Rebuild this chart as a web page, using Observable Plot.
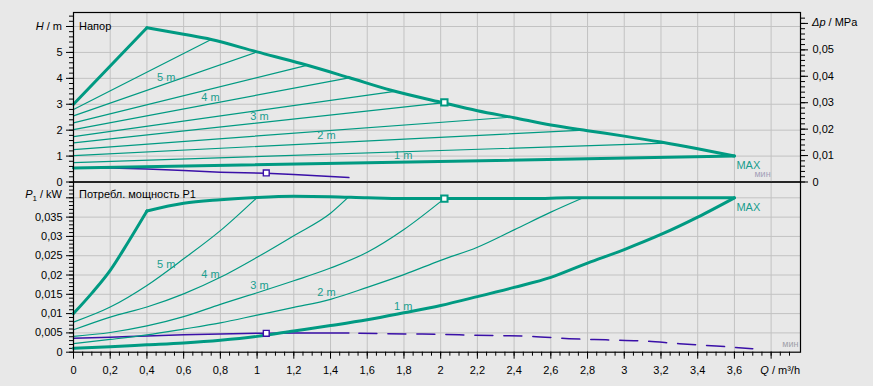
<!DOCTYPE html>
<html><head><meta charset="utf-8">
<script src="https://cdn.jsdelivr.net/npm/d3@7"></script>
<script src="https://cdn.jsdelivr.net/npm/@observablehq/plot@0.6"></script>
<style>
html,body{margin:0;padding:0;background:#e8e8e8;}
#chart{position:relative;width:873px;height:386px;background:#e8e8e8;overflow:hidden;}
#chart svg{position:absolute;left:0;top:0;}
</style></head><body><div id="chart"></div>
<script>
// ---------- DATA ----------
// Head (top panel), MAX curve: rising part and falling part
const maxRiseQ = [0, 0.4];
const maxRiseH = [3.0, 5.95];
const maxQ = [0.4, 0.6, 0.75, 1.0, 1.24, 1.5, 1.73, 2.0, 2.2, 2.4, 2.6, 2.8, 3.0, 3.2, 3.4, 3.6];
const maxH = [5.95, 5.70, 5.50, 5.02, 4.57, 4.03, 3.54, 3.08, 2.75, 2.48, 2.20, 1.98, 1.77, 1.54, 1.28, 1.0];
// Proportional-pressure control lines (setpoints 1.5 ... 5.5 m): start head at Q=0, end on MAX curve
const ctrlStartH = [0.75, 1.02, 1.25, 1.51, 1.75, 2.02, 2.28, 2.55, 2.80];
const ctrlEndQ   = [3.23, 2.78, 2.38, 2.02, 1.75, 1.50, 1.27, 1.00, 0.75];
const ctrlEndH   = [1.50, 2.00, 2.50, 3.06, 3.50, 4.02, 4.50, 5.02, 5.50];
// 1 m line (thick)
const line1mQ = [0, 3.6];
const line1mH = [0.54, 1.0];
// Min curve (head)
const minHQ = [0, 0.2, 0.4, 0.6, 0.8, 1.05, 1.2, 1.3, 1.4, 1.5];
const minHH = [0.54, 0.54, 0.50, 0.44, 0.38, 0.34, 0.29, 0.25, 0.21, 0.17];
// Labels
const labelText = ["5 m", "4 m", "3 m", "2 m", "1 m"];
const labelQ    = [0.505, 0.746, 1.013, 1.378, 1.796];
const labelH    = [4.03, 3.26, 2.52, 1.80, 1.03];
const labelP    = [0.0227, 0.0201, 0.0174, 0.0155, 0.0118];

// Power (bottom panel)
const pMaxRiseQ = [0, 0.1, 0.2, 0.3, 0.4];
const pMaxRiseP = [0.0100, 0.0153, 0.0212, 0.0287, 0.0366];
const pMaxQ = [0.4, 0.6, 0.8, 1.0, 1.2, 1.4, 1.6, 1.8, 2.0, 2.5, 2.7, 3.0, 3.6];
const pMaxP = [0.0366, 0.0386, 0.0395, 0.0401, 0.0404, 0.0403, 0.0400, 0.0398, 0.0398, 0.0398, 0.0400, 0.0400, 0.0400];
const p5Q = [0, 0.2, 0.4, 0.6, 0.8, 1.0];
const p5P = [0.0078, 0.0117, 0.0173, 0.0242, 0.0315, 0.0401];
const p4Q = [0, 0.2, 0.4, 0.6, 0.8, 1.0, 1.2, 1.4, 1.5];
const p4P = [0.0058, 0.0091, 0.0117, 0.0151, 0.0194, 0.0246, 0.0302, 0.0360, 0.0403];
const p3Q = [0, 0.2, 0.4, 0.6, 0.8, 1.0, 1.2, 1.4, 1.6, 1.8, 2.02];
const p3P = [0.0041, 0.0051, 0.0068, 0.0092, 0.0124, 0.0154, 0.0185, 0.0218, 0.0259, 0.0318, 0.0398];
const p2Q = [0, 0.2, 0.4, 0.6, 0.8, 1.0, 1.2, 1.4, 1.6, 1.8, 2.0, 2.2, 2.4, 2.6, 2.77];
const p2P = [0.0022, 0.0033, 0.0045, 0.0060, 0.0076, 0.0096, 0.0116, 0.0137, 0.0168, 0.0201, 0.0238, 0.0272, 0.0317, 0.0363, 0.0399];
const p1Q = [0, 0.2, 0.4, 0.6, 0.8, 1.0, 1.2, 1.4, 1.6, 1.8, 2.0, 2.2, 2.4, 2.6, 2.8, 3.0, 3.2, 3.4, 3.6];
const p1P = [0.0010, 0.0014, 0.0019, 0.0024, 0.0031, 0.0041, 0.0055, 0.0069, 0.0084, 0.0102, 0.0121, 0.0144, 0.0168, 0.0194, 0.0231, 0.0266, 0.0305, 0.0350, 0.0400];
const pMinQ = [0, 0.2, 0.4, 0.6, 0.8, 1.0, 1.2, 1.5];
const pMinP = [0.0036, 0.0039, 0.0042, 0.0045, 0.0047, 0.0049, 0.0050, 0.0050];
const pMinDashQ = [1.5, 1.7, 1.9, 2.1, 2.3, 2.5, 2.7, 2.9, 3.1, 3.3, 3.5, 3.7];
const pMinDashP = [0.0050, 0.0048, 0.0047, 0.0045, 0.0043, 0.0041, 0.0035, 0.0032, 0.0029, 0.0022, 0.0016, 0.0009];

// Operating points
const dutyQ = 2.02, dutyH = 3.07, dutyP = 0.0398;
const minPtQ = 1.05, minPtH = 0.35, minPtP = 0.0049;

// Ticks
const qMajor = [0, 0.2, 0.4, 0.6, 0.8, 1, 1.2, 1.4, 1.6, 1.8, 2, 2.2, 2.4, 2.6, 2.8, 3, 3.2, 3.4, 3.6, 3.8];
const qMinor = d3.range(0, 79).map(i => i * 0.05);
const hMajor = [0, 1, 2, 3, 4, 5, 6];
const hMinor = d3.range(0, 33).map(i => i * 0.2);
const dpMajor = [0, 0.01, 0.02, 0.03, 0.04, 0.05, 0.06];
const dpMinor = d3.range(0, 32).map(i => i * 0.002);
const pMajor = [0, 0.005, 0.01, 0.015, 0.02, 0.025, 0.03, 0.035, 0.04];
const pMinor = d3.range(0, 45).map(i => i * 0.001);
const M_PER_MPA = 101.97;

// ---------- STYLE ----------
const W = 873, HT = 386;
const font = "'Liberation Sans', Arial, sans-serif";
const TEAL = "#009a82", LTEAL = "#1a9e8e", PURPLE = "#3a10a8", GRID = "#c2c2c2";
const fmt = v => String(+(+v).toFixed(4)).replace(".", ",");
const zip = (xs, ys, kx, ky) => xs.map((x, i) => ({[kx]: x, [ky]: ys[i]}));
const baseStyle = {background: "none", fontFamily: font, fontSize: "11px", color: "#000", overflow: "visible"};

// ---------- TOP PANEL ----------
const ctrl = ctrlStartH.flatMap((h0, i) => [{Q: 0, H: h0, k: i}, {Q: ctrlEndQ[i], H: ctrlEndH[i], k: i}]);
const topPlot = Plot.plot({
  width: W, height: HT,
  marginLeft: 73, marginRight: 73, marginTop: 12, marginBottom: 204.5,
  x: {domain: [0, 3.96], axis: null},
  y: {domain: [0, 6.54]},
  style: baseStyle,
  marks: [
    Plot.gridX(qMajor.slice(1), {stroke: GRID, strokeOpacity: 1}),
    Plot.gridY(hMajor.slice(1), {stroke: GRID, strokeOpacity: 1}),
    Plot.axisY(hMinor, {anchor: "left", tickSize: 4, tickFormat: () => "", label: null}),
    Plot.axisY(hMajor, {anchor: "left", tickSize: 7, tickPadding: 4, tickFormat: d => d === 6 ? "" : fmt(d), label: null}),
    Plot.axisY(dpMinor.map(v => v * M_PER_MPA), {anchor: "right", tickSize: 4, tickFormat: () => "", label: null}),
    Plot.axisY(dpMajor.map(v => v * M_PER_MPA), {anchor: "right", tickSize: 7, tickPadding: 5,
      tickFormat: d => (d / M_PER_MPA > 0.055 ? "" : fmt(d / M_PER_MPA)), label: null}),
    Plot.line(zip(minHQ, minHH, "Q", "H"), {x: "Q", y: "H", stroke: PURPLE, strokeWidth: 1.5}),
    Plot.line(ctrl, {x: "Q", y: "H", z: "k", stroke: TEAL, strokeWidth: 1.2}),
    Plot.line(zip(line1mQ, line1mH, "Q", "H"), {x: "Q", y: "H", stroke: TEAL, strokeWidth: 3}),
    Plot.line(zip(maxRiseQ, maxRiseH, "Q", "H"), {x: "Q", y: "H", stroke: TEAL, strokeWidth: 3}),
    Plot.line(zip(maxQ, maxH, "Q", "H"), {x: "Q", y: "H", stroke: TEAL, strokeWidth: 3, curve: "monotone-x"}),
    Plot.text(labelText.map((t, i) => ({t, Q: labelQ[i], H: labelH[i]})), {x: "Q", y: "H", text: "t", fill: LTEAL, fontSize: 11}),
    Plot.text([{t: "MAX", Q: 3.611, H: 0.62}], {x: "Q", y: "H", text: "t", fill: LTEAL, fontSize: 11, textAnchor: "start"}),
    Plot.text([{t: "мин", Q: 3.709, H: 0.29}], {x: "Q", y: "H", text: "t", fill: "#a39fb8", fontSize: 9, textAnchor: "start"}),
    Plot.dot([{Q: dutyQ, H: dutyH}], {x: "Q", y: "H", symbol: "square", r: 3.6, stroke: TEAL, strokeWidth: 2, fill: "white"}),
    Plot.dot([{Q: minPtQ, H: minPtH}], {x: "Q", y: "H", symbol: "square", r: 3.3, stroke: PURPLE, strokeWidth: 1.4, fill: "white"}),
    Plot.frame({stroke: "#000", strokeWidth: 1.2})
  ]
});

// ---------- BOTTOM PANEL ----------
const botPlot = Plot.plot({
  width: W, height: HT,
  marginLeft: 73, marginRight: 73, marginTop: 181.5, marginBottom: 34.3,
  x: {domain: [0, 3.96]},
  y: {domain: [0, 0.0441]},
  style: baseStyle,
  marks: [
    Plot.gridX(qMajor.slice(1), {stroke: GRID, strokeOpacity: 1}),
    Plot.gridY(pMajor.slice(1), {stroke: GRID, strokeOpacity: 1}),
    Plot.axisY(pMinor, {anchor: "left", tickSize: 4, tickFormat: () => "", label: null}),
    Plot.axisY(pMajor, {anchor: "left", tickSize: 7, tickPadding: 4, tickFormat: d => d > 0.037 ? "" : fmt(d), label: null}),
    Plot.axisX(qMinor, {anchor: "bottom", tickSize: 4, tickFormat: () => "", label: null}),
    Plot.axisX(qMajor, {anchor: "bottom", tickSize: 7, tickPadding: 7, tickFormat: d => d > 3.7 ? "" : fmt(d), label: null}),
    Plot.line(zip(pMinQ, pMinP, "Q", "P"), {x: "Q", y: "P", stroke: PURPLE, strokeWidth: 1.5, curve: "monotone-x"}),
    Plot.line(zip(pMinDashQ, pMinDashP, "Q", "P"), {x: "Q", y: "P", stroke: PURPLE, strokeWidth: 1.5, curve: "monotone-x", strokeDasharray: "18,11", strokeDashoffset: 19}),
    Plot.line(zip(p5Q, p5P, "Q", "P"), {x: "Q", y: "P", stroke: TEAL, strokeWidth: 1.2, curve: "monotone-x"}),
    Plot.line(zip(p4Q, p4P, "Q", "P"), {x: "Q", y: "P", stroke: TEAL, strokeWidth: 1.2, curve: "monotone-x"}),
    Plot.line(zip(p3Q, p3P, "Q", "P"), {x: "Q", y: "P", stroke: TEAL, strokeWidth: 1.2, curve: "monotone-x"}),
    Plot.line(zip(p2Q, p2P, "Q", "P"), {x: "Q", y: "P", stroke: TEAL, strokeWidth: 1.2, curve: "monotone-x"}),
    Plot.line(zip(p1Q, p1P, "Q", "P"), {x: "Q", y: "P", stroke: TEAL, strokeWidth: 3, curve: "monotone-x"}),
    Plot.line(zip(pMaxRiseQ, pMaxRiseP, "Q", "P"), {x: "Q", y: "P", stroke: TEAL, strokeWidth: 3, curve: "monotone-x"}),
    Plot.line(zip(pMaxQ, pMaxP, "Q", "P"), {x: "Q", y: "P", stroke: TEAL, strokeWidth: 3, curve: "monotone-x"}),
    Plot.text(labelText.map((t, i) => ({t, Q: labelQ[i], P: labelP[i]})), {x: "Q", y: "P", text: "t", fill: LTEAL, fontSize: 11}),
    Plot.text([{t: "MAX", Q: 3.611, P: 0.0376}], {x: "Q", y: "P", text: "t", fill: LTEAL, fontSize: 11, textAnchor: "start"}),
    Plot.text([{t: "мин", Q: 3.949, P: 0.0020}], {x: "Q", y: "P", text: "t", fill: "#a0a0a8", fontSize: 9, textAnchor: "end"}),
    Plot.dot([{Q: dutyQ, P: dutyP}], {x: "Q", y: "P", symbol: "square", r: 3.6, stroke: TEAL, strokeWidth: 2, fill: "white"}),
    Plot.dot([{Q: minPtQ, P: minPtP}], {x: "Q", y: "P", symbol: "square", r: 3.3, stroke: PURPLE, strokeWidth: 1.4, fill: "white"}),
    Plot.frame({stroke: "#000", strokeWidth: 1.2})
  ]
});

const chart = document.getElementById("chart");
chart.appendChild(botPlot);
chart.appendChild(topPlot);

// ---------- Axis titles (rich text) ----------
function label(svg, x, y, anchor, parts, dy = "0.32em") {
  const t = d3.select(svg).append("text")
    .attr("x", x).attr("y", y).attr("dy", dy)
    .attr("text-anchor", anchor)
    .attr("font-family", font).attr("font-size", 11).attr("fill", "#000");
  parts.forEach(p => {
    const s = t.append("tspan").text(p.t);
    if (p.i) s.attr("font-style", "italic");
    if (p.sub) s.attr("font-size", 8).attr("dy", 3);
    if (p.up) s.attr("dy", -3);
  });
}
const ty = topPlot.scale("y"), by = botPlot.scale("y"), bx = botPlot.scale("x");
const lx = 73 - 11, inX = 73 + 6;
label(topPlot, lx, ty.apply(6), "end", [{t: "H", i: true}, {t: " / m"}]);
label(topPlot, inX, ty.apply(6), "start", [{t: "Напор"}]);
label(topPlot, 800 + 12, ty.apply(0.06 * M_PER_MPA), "start", [{t: "Δp", i: true}, {t: " / MPa"}]);
label(botPlot, lx, by.apply(0.0408), "end", [{t: "P", i: true}, {t: "1", sub: true}, {t: " / kW", up: true}]);
label(botPlot, inX, by.apply(0.0408), "start", [{t: "Потребл. мощность P1"}]);
label(botPlot, bx.apply(3.96), by.apply(0) + 14, "end", [{t: "Q", i: true}, {t: " / m³/h"}], "0.71em");
</script></body></html>
